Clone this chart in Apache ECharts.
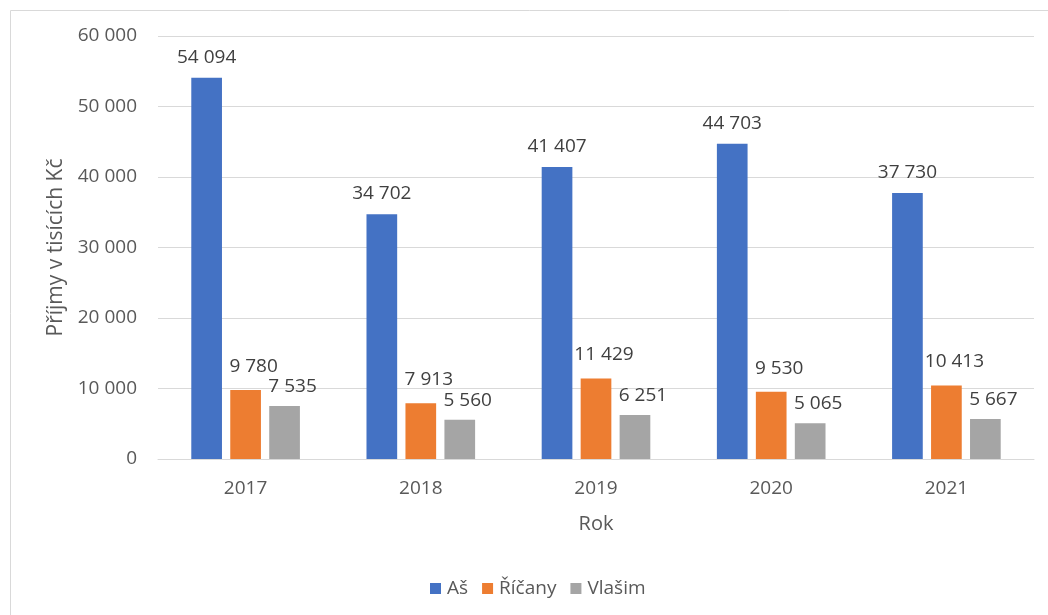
<!DOCTYPE html>
<html>
<head>
<meta charset="utf-8">
<script src="https://cdn.jsdelivr.net/npm/echarts@6/dist/echarts.min.js"></script>
<style>
html,body{margin:0;padding:0;background:#fff;}
#c{width:1048px;height:615px;}
</style>
</head>
<body>
<div id="c"></div>
<script>
const categories = ['2017', '2018', '2019', '2020', '2021'];
const seriesNames = ['Aš', 'Říčany', 'Vlašim'];
const as = [54094, 34702, 41407, 44703, 37730];
const ricany = [9780, 7913, 11429, 9530, 10413];
const vlasim = [7535, 5560, 6251, 5065, 5667];
const yTicks = [0, 10000, 20000, 30000, 40000, 50000, 60000];

const FONT = 'Open Sans';
const fmt = v => String(v).replace(/\B(?=(\d{3})+(?!\d))/g, ' ');

const chart = echarts.init(document.getElementById('c'));
function mkSeries(name, data, color, offset) {
  return {
    name: name,
    type: 'bar',
    data: data,
    itemStyle: {color: color},
    barGap: '27%',
    barCategoryGap: '38%',
    label: {
      show: true,
      position: 'top',
      distance: 9,
      offset: offset,
      color: '#404040',
      fontFamily: FONT,
      fontSize: 19,
      formatter: p => fmt(p.value)
    }
  };
}
chart.setOption({
  animation: false,
  textStyle: {fontFamily: FONT},
  graphic: [{
    type: 'rect',
    shape: {x: 10.5, y: 10.5, width: 1045, height: 620},
    style: {fill: 'none', stroke: '#d9d9d9', lineWidth: 1},
    silent: true
  }],
  grid: {left: 158, right: 14, top: 36, bottom: 156},
  legend: {
    data: seriesNames,
    top: 574,
    left: 425,
    itemWidth: 11,
    itemHeight: 11,
    itemGap: 14,
    icon: 'rect',
    textStyle: {color: '#595959', fontSize: 19, fontFamily: FONT, padding: [0, 0, 0, 1]}
  },
  xAxis: {
    type: 'category',
    data: categories,
    name: 'Rok',
    nameLocation: 'middle',
    nameGap: 55,
    nameTextStyle: {color: '#595959', fontSize: 20, fontFamily: FONT},
    axisLine: {show: true, lineStyle: {color: '#d9d9d9'}},
    axisTick: {show: false},
    axisLabel: {color: '#595959', fontSize: 19, margin: 20, fontFamily: FONT}
  },
  yAxis: {
    type: 'value',
    min: 0,
    max: 60000,
    interval: 10000,
    name: 'Příjmy v tisících Kč',
    nameLocation: 'middle',
    nameGap: 91,
    nameTextStyle: {color: '#595959', fontSize: 21, fontFamily: FONT},
    axisLine: {show: false},
    axisTick: {show: false},
    splitLine: {lineStyle: {color: '#d9d9d9'}},
    axisLabel: {color: '#595959', fontSize: 19, margin: 21, fontFamily: FONT,
      formatter: v => yTicks.includes(v) ? fmt(v) : ''}
  },
  series: [
    mkSeries(seriesNames[0], as, '#4472c4', [0, -2]),
    mkSeries(seriesNames[1], ricany, '#ed7d31', [8, -5]),
    mkSeries(seriesNames[2], vlasim, '#a5a5a5', [8, -1])
  ]
});
</script>
</body>
</html>
